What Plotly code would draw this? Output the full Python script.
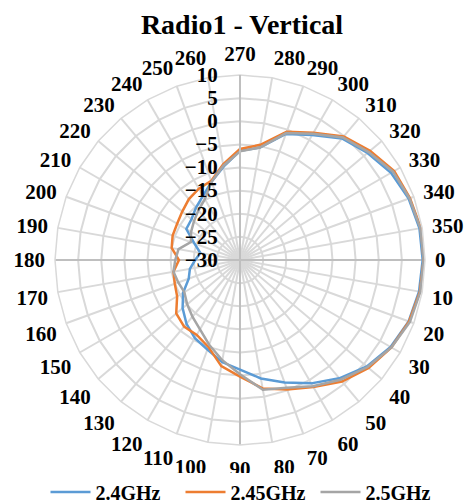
import plotly.graph_objects as go

angles = [str(a) for a in range(0, 360, 10)]

ghz_24 = [9.5, 9.3, 8.8, 7.6, 5.8, 3.4, 0.8, -1.8, -4.0, -6.3, -7.6, -9.4,
          -10.5, -12.0, -13.8, -15.8, -18.2, -19.0, -20.3, -21.3, -19.5, -16.6, -16.3, -15.2,
          -14.0, -12.0, -9.5, -6.4, -5.3, -1.0, 1.2, 4.3, 6.0, 7.7, 8.8, 9.4]
ghz_245 = [9.7, 9.5, 8.9, 7.8, 6.3, 4.3, 1.7, -0.2, -1.8, -4.8, -6.7, -10.0,
           -11.3, -11.2, -12.0, -14.3, -15.0, -15.4, -16.8, -15.0, -14.5, -14.3, -13.7, -12.8,
           -12.2, -11.8, -9.0, -6.0, -4.7, -0.5, 1.8, 4.9, 6.7, 8.5, 9.1, 9.7]
ghz_25 = [9.7, 9.6, 9.1, 7.8, 6.0, 3.8, 1.5, -0.6, -1.5, -5.3, -8.0, -10.5,
          -12.7, -14.0, -15.1, -16.1, -15.8, -15.4, -16.0, -16.5, -18.7, -17.8, -17.0, -16.0,
          -14.8, -12.0, -9.3, -6.5, -5.3, -0.8, 1.5, 4.6, 6.3, 8.2, 9.0, 9.6]

series_names = ["2.4GHz", "2.45GHz", "2.5GHz"]
series_colors = ["#5B9BD5", "#ED7D31", "#A5A5A5"]
r_min, r_max = -30, 10

FONT = "Liberation Serif"
W, H = 468, 496

fig = go.Figure()

# darker horizontal / vertical axis spokes
for a, b in [("0", "180"), ("90", "270")]:
    fig.add_trace(go.Scatterpolar(
        r=[r_max, r_min, r_max], theta=[a, a, b], mode="lines",
        line=dict(color="#BFBFBF", width=2), showlegend=False, hoverinfo="skip"))

for name, vals, col in zip(series_names, [ghz_24, ghz_245, ghz_25], series_colors):
    fig.add_trace(go.Scatterpolar(
        r=vals + [vals[0]], theta=angles + [angles[0]], mode="lines", name=name,
        line=dict(color=col, width=2.5)))

fig.update_layout(
    width=W, height=H,
    margin=dict(l=0, r=0, t=0, b=0, autoexpand=False),
    paper_bgcolor="white",
    title=dict(text="Radio1 - Vertical", x=0.5, xanchor="center", y=1 - 6 / H,
               yanchor="top", yref="container", pad=dict(t=0),
               font=dict(family=FONT, size=28, color="black", weight="bold")),
    polar=dict(
        domain=dict(x=[47 / W, 417 / W], y=[59 / H, 429 / H]),
        bgcolor="white",
        gridshape="linear",
        angularaxis=dict(
            type="category", categoryarray=angles, direction="clockwise", rotation=0,
            tickfont=dict(family=FONT, size=21, color="black", weight="bold"),
            gridcolor="#D9D9D9", gridwidth=1.5, linecolor="#D9D9D9", linewidth=1.5,
            ticks="outside", ticklen=5, tickcolor="rgba(0,0,0,0)", showline=True),
        radialaxis=dict(
            range=[r_min, r_max], dtick=5, angle=90, side="counterclockwise",
            tickfont=dict(family=FONT, size=21, color="black", weight="bold"),
            gridcolor="#D9D9D9", gridwidth=1.5, showline=True, linecolor="#BFBFBF",
            linewidth=2, ticks="outside", ticklen=14, tickcolor="rgba(0,0,0,0)",
            tickangle=90),
    ),
    legend=dict(orientation="h", x=0.5 + 6 / W, xanchor="center", xref="container",
                y=12 / H, yanchor="middle", yref="container",
                font=dict(family=FONT, size=20, color="black", weight="bold"),
                itemwidth=40, entrywidth=80),
)

fig.write_html("out.html")
